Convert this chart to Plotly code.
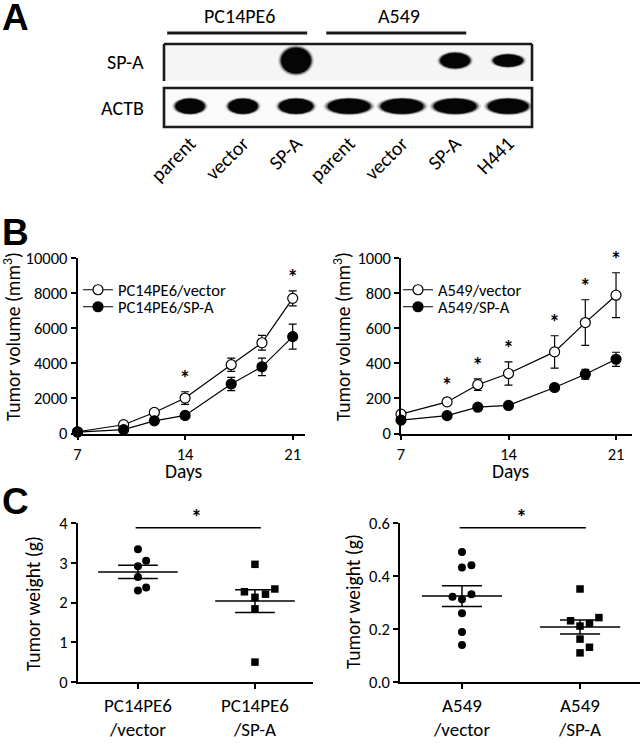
import numpy as np
import plotly.graph_objects as go

W, H = 641, 743
FONT = "Carlito, Lato, sans-serif"
LETTER_FONT = "Liberation Sans, Arial, sans-serif"

# ---- panel A: western blot ----
lanes = ["parent", "vector", "SP-A", "parent", "vector", "SP-A", "H441"]
cell_lines = ["PC14PE6", "A549"]
cell_line_lanes = [[0, 2], [3, 5]]
rows = ["SP-A", "ACTB"]
spa_signal = [0, 0, 1.0, 0, 0, 0.6, 0.48]
actb_signal = [0.69, 0.69, 0.8, 1.0, 1.0, 1.0, 0.95]

# ---- panel B: tumor volume ----
days = [7, 10, 12, 14, 17, 19, 21]
day_ticks = [7, 14, 21]

pc_vector = [100, 500, 1200, 2020, 3920, 5170, 7700]
pc_vector_err = [40, 80, 120, 360, 380, 420, 430]
pc_spa = [80, 220, 720, 1030, 2820, 3800, 5520]
pc_spa_err = [30, 60, 100, 120, 380, 500, 710]
pc_sig_days = [14, 21]

a_vector = [110, 180, 278, 342, 465, 632, 788]
a_vector_err = [10, 20, 33, 66, 92, 130, 128]
a_spa = [76, 102, 150, 160, 262, 338, 423]
a_spa_err = [5, 8, 10, 10, 12, 28, 40]
a_sig_days = [10, 12, 14, 17, 19, 21]

# ---- panel C: tumor weight ----
pc_groups = ["PC14PE6<br>/vector", "PC14PE6<br>/SP-A"]
pc_w_vector = [3.34, 3.05, 2.91, 2.64, 2.38, 2.30]
pc_w_spa = [2.96, 2.27, 2.13, 2.21, 2.34, 1.84, 0.50]
a_groups = ["A549<br>/vector", "A549<br>/SP-A"]
a_w_vector = [0.491, 0.432, 0.441, 0.322, 0.312, 0.331, 0.259, 0.189, 0.140]
a_w_spa = [0.351, 0.231, 0.243, 0.221, 0.211, 0.162, 0.131, 0.110]

# horizontal scatter of dots so they don't overlap (display only)
pc_jit_vector = [0, 0.07, 0, 0, 0.07, 0]
pc_jit_spa = [0, -0.09, 0, 0.09, 0.17, 0, 0]
a_jit_vector = [0, 0, 0.08, -0.08, 0, 0.08, 0, 0, 0]
a_jit_spa = [0, -0.08, 0.16, 0.08, 0, 0, 0.08, 0]


def px(x):
    return x / W


def py(y):
    return 1 - y / H


fig = go.Figure()

# ---------- B: growth curves ----------
def growth(xa, ya, vec, vec_err, spa, spa_err, names, legends):
    fig.add_trace(go.Scatter(
        x=days, y=vec, mode="lines+markers", name=names[0],
        xaxis=xa, yaxis=ya, legend=legends[0], cliponaxis=False,
        line=dict(color="black", width=1.2),
        marker=dict(symbol="circle", size=10, color="white",
                    line=dict(color="black", width=1.2)),
        error_y=dict(type="data", array=vec_err, color="black",
                     thickness=1.2, width=4),
    ))
    fig.add_trace(go.Scatter(
        x=days, y=spa, mode="lines+markers", name=names[1],
        xaxis=xa, yaxis=ya, legend=legends[1], cliponaxis=False,
        line=dict(color="black", width=1.2),
        marker=dict(symbol="circle", size=10, color="black",
                    line=dict(color="black", width=1.2)),
        error_y=dict(type="data", array=spa_err, color="black",
                     thickness=1.2, width=4),
    ))


growth("x", "y", pc_vector, pc_vector_err, pc_spa, pc_spa_err,
       ["PC14PE6/vector", "PC14PE6/SP-A"], ["legend", "legend2"])
growth("x2", "y2", a_vector, a_vector_err, a_spa, a_spa_err,
       ["A549/vector", "A549/SP-A"], ["legend3", "legend4"])


def stars(xa, ya, sig_days, vec, vec_err):
    top = [vec[days.index(d)] + vec_err[days.index(d)] for d in sig_days]
    fig.add_trace(go.Scatter(
        x=sig_days, y=top, mode="text", text=["*"] * len(sig_days),
        textposition="top center",
        textfont=dict(size=22, family=FONT, color="#000000", weight="bold"),
        xaxis=xa, yaxis=ya, showlegend=False, cliponaxis=False,
    ))


stars("x", "y", pc_sig_days, pc_vector, pc_vector_err)
stars("x2", "y2", a_sig_days, a_vector, a_vector_err)


# ---------- C: dot plots ----------
def dots(xa, ya, vec, spa, jv, js):
    fig.add_trace(go.Scatter(
        x=[0 + j for j in jv], y=vec, mode="markers", xaxis=xa, yaxis=ya,
        showlegend=False, cliponaxis=False,
        marker=dict(symbol="circle", size=8, color="black"),
    ))
    fig.add_trace(go.Scatter(
        x=[1 + j for j in js], y=spa, mode="markers", xaxis=xa, yaxis=ya,
        showlegend=False, cliponaxis=False,
        marker=dict(symbol="square", size=7.5, color="black"),
    ))
    lx, ly = [], []
    for c, vals in enumerate([vec, spa]):
        m = np.mean(vals)
        s = np.std(vals, ddof=1) / np.sqrt(len(vals))
        lx += [c - 0.34, c + 0.34, None, c, c, None,
               c - 0.17, c + 0.17, None, c - 0.17, c + 0.17, None]
        ly += [m, m, None, m - s, m + s, None,
               m - s, m - s, None, m + s, m + s, None]
    fig.add_trace(go.Scatter(
        x=lx, y=ly, mode="lines", xaxis=xa, yaxis=ya, showlegend=False,
        line=dict(color="black", width=1.5), cliponaxis=False,
    ))


dots("x3", "y3", pc_w_vector, pc_w_spa, pc_jit_vector, pc_jit_spa)
dots("x4", "y4", a_w_vector, a_w_spa, a_jit_vector, a_jit_spa)

# ---------- A: blot bands ----------
shapes = []
annotations = []


def band(lane, row_y, w, h,
         layers=((1.22, 0.12), (1.14, 0.25), (1.07, 0.5), (1.0, 1.0))):
    for scale, op in layers:
        shapes.append(dict(
            type="circle", xref="x5", yref="y5", layer="above",
            x0=lane - w * scale / 2, x1=lane + w * scale / 2,
            y0=row_y - h * scale / 2, y1=row_y + h * scale / 2,
            fillcolor="#050505", opacity=op, line=dict(width=0),
        ))


# row backgrounds
shapes.append(dict(type="rect", xref="x5 domain", yref="y5 domain",
                   x0=0, x1=1, y0=0.554, y1=1, fillcolor="#f5f5f5",
                   line=dict(width=0), layer="below"))
shapes.append(dict(type="rect", xref="x5 domain", yref="y5 domain",
                   x0=0, x1=1, y0=0, y1=0.47, fillcolor="#fafafa",
                   line=dict(width=0), layer="below"))

for i, s in enumerate(spa_signal):
    if s > 0:
        band(i, -0.1, 0.56, 0.62 * s)
for i, s in enumerate(actb_signal):
    band(i, 1.0, 0.8 * s, 0.36)

frame = dict(color="#1a1a1a", width=2.6)
# SP-A frame: top and sides, open bottom
for x0, y0, x1, y1 in [(0, 1, 1, 1), (0, 0.554, 0, 1), (1, 0.554, 1, 1)]:
    shapes.append(dict(type="line", xref="x5 domain", yref="y5 domain",
                       x0=x0, y0=y0, x1=x1, y1=y1, line=frame, layer="above"))
shapes.append(dict(type="rect", xref="x5 domain", yref="y5 domain",
                   x0=0, x1=1, y0=0, y1=0.47, line=frame, layer="above"))

# cell line group bars
for name, (a, b) in zip(cell_lines, cell_line_lanes):
    shapes.append(dict(type="line", xref="x5", yref="paper",
                       x0=a - 0.43, x1=b + 0.21, y0=py(33), y1=py(33),
                       line=dict(color="#1a1a1a", width=2.8)))
    annotations.append(dict(x=(a + b) / 2 - 0.06, xref="x5", y=py(16), yref="paper",
                            text=name, showarrow=False, xanchor="center",
                            yanchor="middle", font=dict(size=20)))

for name, yy in zip(rows, [62, 108]):
    annotations.append(dict(x=px(146), y=py(yy), xref="paper", yref="paper",
                            text=name, showarrow=False, xanchor="right",
                            yanchor="middle", font=dict(size=20)))

# significance bars in C
for xa, ya, top in [("x3", "y3", 4), ("x4", "y4", 0.6)]:
    yb = 0.97 * top
    shapes.append(dict(type="line", xref=xa, yref=ya, x0=-0.02, x1=1.05,
                       y0=yb, y1=yb, line=dict(color="black", width=1.5)))
    annotations.append(dict(x=0.5, y=yb, xref=xa, yref=ya, text="<b>*</b>",
                            showarrow=False, yanchor="bottom", yshift=-5,
                            font=dict(size=22)))

# panel letters
for letter, yy in [("A", 17), ("B", 232), ("C", 501)]:
    annotations.append(dict(x=0, y=py(yy), xref="paper", yref="paper",
                            text="<b>%s</b>" % letter, showarrow=False,
                            xanchor="left", yanchor="middle",
                            font=dict(size=37, family=LETTER_FONT)))

# axis titles
vol_title = "Tumor volume (mm<sup>3</sup>)"
wt_title = "Tumor weight (g)"
for text, x, y in [(vol_title, 12, 337), (vol_title, 342, 337),
                   (wt_title, 33, 604), (wt_title, 353, 602)]:
    annotations.append(dict(x=px(x), y=py(y), xref="paper", yref="paper",
                            text=text, textangle=-90, showarrow=False,
                            xanchor="center", yanchor="middle", font=dict(size=19.5)))
for x in [183, 510]:
    annotations.append(dict(x=px(x), y=py(471), xref="paper", yref="paper",
                            text="Days", showarrow=False, xanchor="center",
                            yanchor="middle", font=dict(size=19.5)))

axis_style = dict(showline=True, linecolor="black", linewidth=1.5,
                  ticks="outside", ticklen=5, tickwidth=1.5, tickcolor="black",
                  showgrid=False, zeroline=False, tickfont=dict(size=16.5),
                  automargin=False)

legend_style = dict(xanchor="left", yanchor="middle", bgcolor="rgba(0,0,0,0)",
                    font=dict(size=16.5), borderwidth=0)

fig.update_layout(
    width=W, height=H,
    margin=dict(l=0, r=0, t=0, b=0, pad=0, autoexpand=False),
    paper_bgcolor="white", plot_bgcolor="rgba(0,0,0,0)",
    font=dict(family=FONT, color="black", size=16),
    shapes=shapes, annotations=annotations,
    # B left
    xaxis=dict(axis_style, domain=[px(77.5), px(305)], anchor="y",
               range=[7, 21.8], tickvals=day_ticks),
    yaxis=dict(axis_style, domain=[py(433.5), py(258)], anchor="x",
               range=[0, 10000], tickvals=list(range(0, 10001, 2000)),
               tickformat="d"),
    # B right
    xaxis2=dict(axis_style, domain=[px(401), px(632)], anchor="y2",
                range=[7, 22.04], tickvals=day_ticks),
    yaxis2=dict(axis_style, domain=[py(433.5), py(258)], anchor="x2",
                range=[0, 1000], tickvals=list(range(0, 1001, 200))),
    # C left
    xaxis3=dict(axis_style, domain=[px(77.7), px(313)], anchor="y3",
                range=[-0.515, 1.496], tickvals=[0, 1], ticktext=pc_groups,
                tickfont=dict(size=19)),
    yaxis3=dict(axis_style, domain=[py(682), py(523)], anchor="x3",
                range=[0, 4], tickvals=[0, 1, 2, 3, 4]),
    # C right
    xaxis4=dict(axis_style, domain=[px(400), px(640)], anchor="y4",
                range=[-0.525, 1.508], tickvals=[0, 1], ticktext=a_groups,
                tickfont=dict(size=19)),
    yaxis4=dict(axis_style, domain=[py(682), py(523)], anchor="x4",
                range=[0, 0.6], tickvals=[0, 0.2, 0.4, 0.6], tickformat=".1f"),
    # A blot
    xaxis5=dict(domain=[px(164), px(532)], anchor="y5", range=[-0.49, 6.45],
                showline=False, showgrid=False, zeroline=False, ticks="",
                tickvals=list(range(len(lanes))), ticktext=lanes,
                tickangle=-45, tickfont=dict(size=20), automargin=False),
    yaxis5=dict(domain=[py(127), py(44)], anchor="x5", range=[1.5, -0.5],
                showline=False, showgrid=False, zeroline=False,
                showticklabels=False, ticks="", automargin=False),
    legend=dict(legend_style, x=px(78), y=py(290)),
    legend2=dict(legend_style, x=px(78), y=py(307)),
    legend3=dict(legend_style, x=px(398), y=py(290)),
    legend4=dict(legend_style, x=px(398), y=py(307)),
)

# the page body has a default 8px margin; drop it so the figure fills the window
fig.write_html("out.html",
               config={"displayModeBar": False},
               post_script="document.body.style.margin='0px';"
                           "document.body.style.overflow='hidden';")
